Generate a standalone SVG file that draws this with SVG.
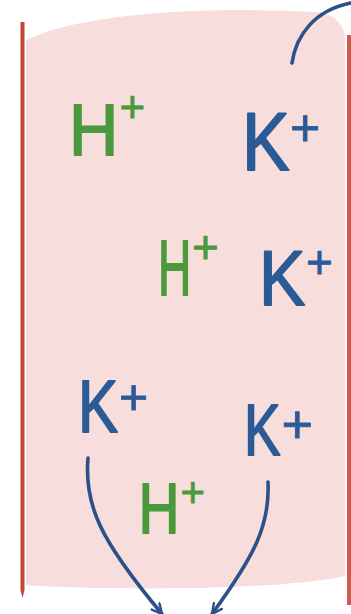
<svg xmlns="http://www.w3.org/2000/svg" width="351" height="614" viewBox="0 0 351 614">
  <style>
    .h { fill: #4a9a3b; stroke: #4a9a3b; stroke-width: 1.8; font-family: "Liberation Sans", Arial, sans-serif; stroke-linejoin: round; }
    .k { fill: #2b5b97; stroke: #2b5b97; stroke-width: 1.8; font-family: "Liberation Sans", Arial, sans-serif; stroke-linejoin: round; }
    .p { stroke-width: 0.8; }
    .arrow { fill: none; stroke: #2c5189; stroke-width: 3.6; stroke-linecap: round; }
  </style>
  <defs>
    <marker id="ah" viewBox="0 0 12 12" refX="11" refY="6" markerWidth="12" markerHeight="12" markerUnits="userSpaceOnUse" orient="auto">
      <path d="M1,1 L11,6 L1,11" fill="none" stroke="#2c5189" stroke-width="2.4" stroke-linecap="round"/>
    </marker>
  </defs>
  <rect width="351" height="614" fill="#ffffff"/>
  <g id="cell">
    <path d="M26,40 C80,14 200,6 315,12 C335,14 345,24 345,40 L345,576 C300,586 200,590 100,588 C60,587 40,586 26,585 Z" fill="#f7dedc"/>
    <path d="M20.5,22 L24.5,22 L24.5,590 L22.5,598 L20.5,590 Z" fill="#c4453a"/>
    <rect x="347" y="35" width="4" height="570" fill="#d6584a"/>
  </g>
  <g id="h1">
    <text class="h" transform="translate(69,155) scale(0.95,1)" font-size="72">H</text>
    <text class="h p" x="119.5" y="122" font-size="44">+</text>
  </g>
  <g id="k1">
    <text class="k" transform="translate(242,170) scale(0.88,1)" font-size="81">K</text>
    <text class="k p" x="290" y="146" font-size="52">+</text>
  </g>
  <g id="h2">
    <text class="h" transform="translate(158,295) scale(0.6,1)" font-size="77">H</text>
    <text class="h p" x="192" y="263" font-size="46">+</text>
  </g>
  <g id="k2">
    <text class="k" transform="translate(259,305) scale(0.9,1)" font-size="77">K</text>
    <text class="k p" x="306" y="278" font-size="46">+</text>
  </g>
  <g id="k3">
    <text class="k" transform="translate(78,432) scale(0.8,1)" font-size="75">K</text>
    <text class="k p" x="119" y="414" font-size="50">+</text>
  </g>
  <g id="k4">
    <text class="k" transform="translate(244,455) scale(0.75,1)" font-size="73">K</text>
    <text class="k p" x="281.5" y="443" font-size="54">+</text>
  </g>
  <g id="h3">
    <text class="h" transform="translate(138.5,533) scale(0.8,1)" font-size="71">H</text>
    <text class="h p" x="180.5" y="507" font-size="42">+</text>
  </g>
  <g id="connectors">
    <path class="arrow" d="M292,63 C296,35 315,10 351,3" stroke="#1f3a66"/>
    <path class="arrow" d="M88,458 C84,505 100,540 162,614" marker-end="url(#ah)"/>
    <path class="arrow" d="M268,482 C270,525 255,555 212,614" marker-end="url(#ah)"/>
  </g>
</svg>
